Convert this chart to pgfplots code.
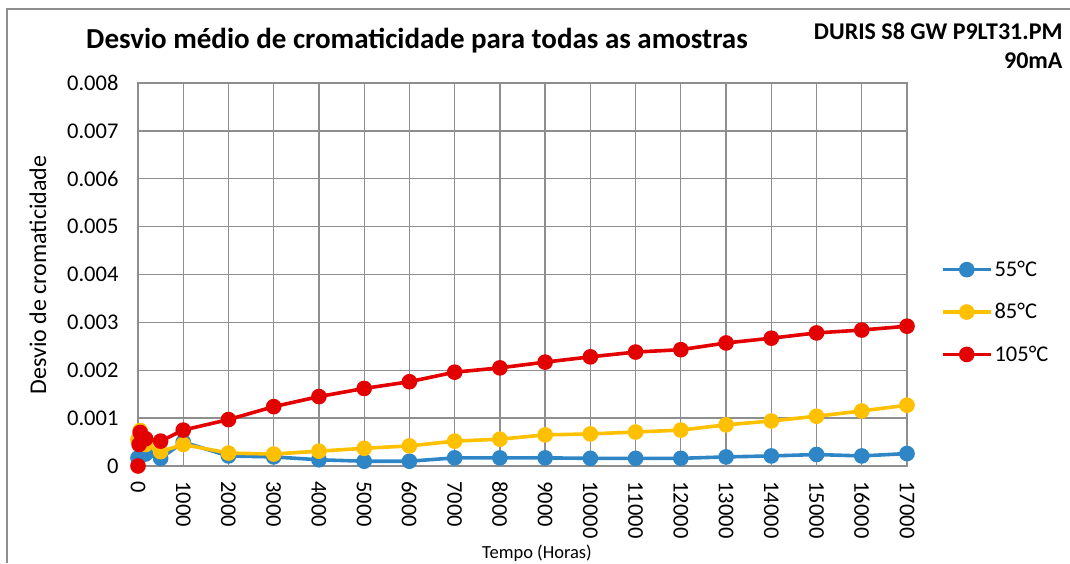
\documentclass[border=0pt]{standalone}
\usepackage{pgfplots}
\pgfplotsset{compat=1.18}
\usepackage{fontspec}
\setmainfont{Carlito}

\definecolor{c55}{HTML}{2E86C6}
\definecolor{c85}{HTML}{FFC000}
\definecolor{c105}{HTML}{E30000}
\definecolor{gridc}{HTML}{8E8E8E}

\begin{document}
\begin{tikzpicture}[x=1pt,y=1pt]
\useasboundingbox (0,0) rectangle (1070,563);
% chart frame (only top and left edges visible)
\draw[gridc, line width=1.6pt] (7,0) -- (7,554) -- (1070,554);

\begin{axis}[
    at={(138pt,97pt)}, anchor=south west,
    scale only axis,
    width=769pt, height=383pt,
    xmin=0, xmax=17000,
    ymin=0, ymax=0.008,
    clip=false,
    axis line style={gridc, line width=1.3pt},
    grid=major,
    major grid style={gridc, line width=1.3pt},
    major tick length=0pt,
    xtick={0,1000,...,17000},
    xticklabels={0,1000,2000,3000,4000,5000,6000,7000,8000,9000,10000,11000,12000,13000,14000,15000,16000,17000},
    ytick={0,0.001,...,0.008},
    yticklabels={0,0.001,0.002,0.003,0.004,0.005,0.006,0.007,0.008},
    scaled x ticks=false,
    scaled y ticks=false,
    xticklabel shift=12pt,
    x tick label style={rotate=-90, anchor=west, font=\fontsize{22.5}{24}\selectfont},
    y tick label style={font=\fontsize{22.5}{24}\selectfont, xshift=-16pt},
    every axis plot/.append style={line width=3.6pt, mark=*, mark size=6pt},
    legend style={at={(1.04,0.402)}, anchor=west, draw=none, fill=none,
        font=\fontsize{22.5}{24}\selectfont, row sep=21.5pt},
    legend cell align=left,
    legend image code/.code={
        \draw[#1, mark repeat=2, mark phase=2] plot coordinates {(0pt,0pt) (24pt,0pt) (48pt,0pt)};
    },
]
\addplot[c55, mark options={fill=c55, draw=c55}] coordinates {
(0,0.00017) (168,0.00025) (500,0.00016) (1000,0.0005) (2000,0.00021)
(3000,0.00019) (4000,0.00013) (5000,0.0001) (6000,0.0001) (7000,0.00017)
(8000,0.00017) (9000,0.00017) (10000,0.00016) (11000,0.00016) (12000,0.00016)
(13000,0.00019) (14000,0.00021) (15000,0.00024) (16000,0.00021) (17000,0.00026)
};
\addlegendentry{55°C}
\addplot[c85, mark options={fill=c85, draw=c85}] coordinates {
(0,0.00055) (48,0.00074) (168,0.00045) (500,0.0003) (1000,0.00045)
(2000,0.00027) (3000,0.00025) (4000,0.00031) (5000,0.00037) (6000,0.00042)
(7000,0.00052) (8000,0.00056) (9000,0.00065) (10000,0.00067) (11000,0.00071)
(12000,0.00075) (13000,0.00086) (14000,0.00094) (15000,0.00104) (16000,0.00115)
(17000,0.00127)
};
\addlegendentry{85°C}
\addplot[c105, mark options={fill=c105, draw=c105}] coordinates {
(0,0) (24,0.00045) (48,0.0007) (168,0.00057) (500,0.00052) (1000,0.00075)
(2000,0.00097) (3000,0.00124) (4000,0.00145) (5000,0.00162) (6000,0.00176)
(7000,0.00196) (8000,0.00205) (9000,0.00217) (10000,0.00228) (11000,0.00238)
(12000,0.00243) (13000,0.00257) (14000,0.00267) (15000,0.00278) (16000,0.00284)
(17000,0.00292)
};
\addlegendentry{105°C}
\end{axis}

% titles and labels
\node[font=\bfseries\fontsize{29}{32}\selectfont] at (417,522) {Desvio médio de cromaticidade para todas as amostras};
\node[font=\bfseries\fontsize{24}{26}\selectfont, anchor=east] at (1066,532) {DURIS S8 GW P9LT31.PM};
\node[font=\bfseries\fontsize{24}{26}\selectfont, anchor=east] at (1066,502) {90mA};
\node[font=\fontsize{24}{26}\selectfont, rotate=90] at (38,288) {Desvio de cromaticidade};
\node[font=\fontsize{18.5}{20}\selectfont] at (537,10) {Tempo (Horas)};
\end{tikzpicture}
\end{document}
